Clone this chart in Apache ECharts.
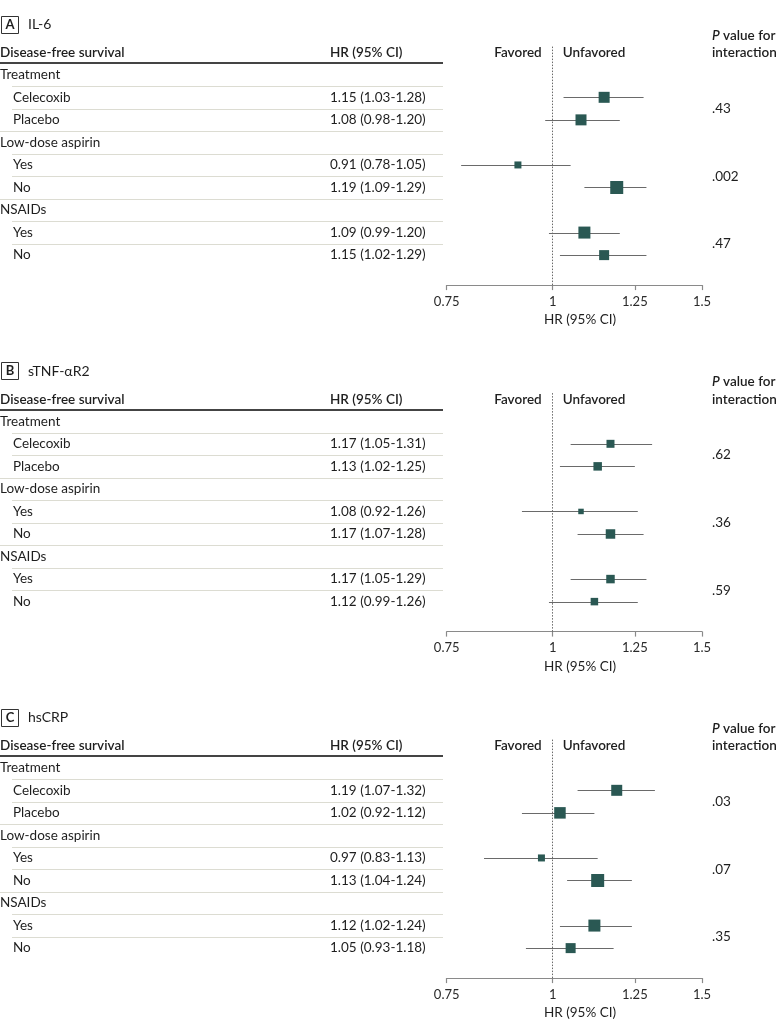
<!DOCTYPE html>
<html><head><meta charset="utf-8">
<script src="https://cdn.jsdelivr.net/npm/echarts@6/dist/echarts.min.js"></script>
<style>html,body{margin:0;padding:0;background:#fff}#c{width:783px;height:1033px}</style>
</head><body><div id="c"></div>
<script>
// ---------- data ----------
const rowLabels = ['Treatment','Celecoxib','Placebo','Low-dose aspirin','Yes','No','NSAIDs','Yes','No'];
const rowIsGroup = [true,false,false,true,false,false,true,false,false];
const panelLetters = ['A','B','C'];
const panelTitles = ['IL-6','sTNF-\u03b1R2','hsCRP'];
const tickValues = [0.75, 1, 1.25, 1.5];
const tickLabels = ['0.75','1','1.25','1.5'];

const il6Hr   = [null,1.15,1.08,null,0.91,1.19,null,1.09,1.15];
const il6Lo   = [null,1.03,0.98,null,0.78,1.09,null,0.99,1.02];
const il6Hi   = [null,1.28,1.20,null,1.05,1.29,null,1.20,1.29];
const il6Wt   = [null,11,11,null,7,13,null,12,10];
const il6P    = ['.43','.002','.47'];

const tnfHr   = [null,1.17,1.13,null,1.08,1.17,null,1.17,1.12];
const tnfLo   = [null,1.05,1.02,null,0.92,1.07,null,1.05,0.99];
const tnfHi   = [null,1.31,1.25,null,1.26,1.28,null,1.29,1.26];
const tnfWt   = [null,8,8.5,null,5.5,9.5,null,8.5,7.5];
const tnfP    = ['.62','.36','.59'];

const crpHr   = [null,1.19,1.02,null,0.97,1.13,null,1.12,1.05];
const crpLo   = [null,1.07,0.92,null,0.83,1.04,null,1.02,0.93];
const crpHi   = [null,1.32,1.12,null,1.13,1.24,null,1.24,1.18];
const crpWt   = [null,11,11.5,null,7,13,null,12,10];
const crpP    = ['.03','.07','.35'];

const panels = [
  {hr: il6Hr, lo: il6Lo, hi: il6Hi, wt: il6Wt, p: il6P},
  {hr: tnfHr, lo: tnfLo, hi: tnfHi, wt: tnfWt, p: tnfP},
  {hr: crpHr, lo: crpLo, hi: crpHi, wt: crpWt, p: crpP}
];

// ---------- layout ----------
const FONT = 'Lato, "Open Sans", sans-serif';
const TXT = '#1e1e1e';
const MARK = '#2a5853';
const PANEL_STEP = 346.5;
const GRID_TOP = 46.6, GRID_H = 238.5, GRID_L = 446.7, GRID_W = 255.3;
const Y_MIN = -1.25, Y_MAX = 9.33;

const chart = echarts.init(document.getElementById('c'), null, {renderer: 'canvas'});

const grids = [], xAxes = [], yAxes = [], series = [];
panels.forEach((pd, i) => {
  grids.push({left: GRID_L, width: GRID_W, top: GRID_TOP + i * PANEL_STEP, height: GRID_H, containLabel: false});
  xAxes.push({
    type: 'log', gridIndex: i, min: 0.75, max: 1.5, logBase: Math.E, position: 'bottom',
    axisLine: {show: true, onZero: false, lineStyle: {color: '#8a8a8a', width: 1.2}},
    axisTick: {show: true, customValues: tickValues, length: 5, inside: false, lineStyle: {color: '#8a8a8a', width: 1.2}},
    axisLabel: {show: true, customValues: tickValues, margin: 10, color: '#2a2a2a', fontFamily: FONT, fontSize: 13,
      formatter: v => { const k = tickValues.findIndex(t => Math.abs(t - v) < 1e-6); return k >= 0 ? tickLabels[k] : ''; }},
    splitLine: {show: false}, minorTick: {show: false}, minorSplitLine: {show: false}
  });
  yAxes.push({type: 'value', gridIndex: i, inverse: true, min: Y_MIN, max: Y_MAX, show: false});

  const whisk = [], pts = [];
  pd.hr.forEach((h, r) => {
    if (h == null) return;
    whisk.push([h, r, pd.lo[r], pd.hi[r]]);
    pts.push([h, r, pd.wt[r]]);
  });
  series.push({
    type: 'custom', xAxisIndex: i, yAxisIndex: i, data: whisk, encode: {x: 0, y: 1}, z: 2, silent: true,
    renderItem: (params, api) => {
      const r = api.value(1);
      const a = api.coord([api.value(2), r]);
      const b = api.coord([api.value(3), r]);
      const y = Math.round(a[1]) + 0.5;
      return {type: 'line', shape: {x1: a[0], y1: y, x2: b[0], y2: y}, style: {stroke: '#6a6a6a', lineWidth: 1}};
    }
  });
  series.push({
    type: 'scatter', xAxisIndex: i, yAxisIndex: i, data: pts, symbol: 'rect', z: 3, silent: true,
    symbolSize: v => v[2], itemStyle: {color: MARK, opacity: 1},
    markLine: {silent: true, symbol: 'none', label: {show: false},
      lineStyle: {type: [1.5, 1.5], color: '#6a6a6a', width: 1},
      data: [{xAxis: 1}]}
  });
});

chart.setOption({
  animation: false,
  textStyle: {fontFamily: FONT},
  grid: grids, xAxis: xAxes, yAxis: yAxes, series: series
});

// ---------- table text via the same y scales ----------
const g = [];
function T(x, y, text, opts) {
  opts = opts || {};
  g.push({type: 'text', x: x, y: y, silent: true, style: Object.assign({
    text: text, fill: TXT, font: (opts.weight || 'normal') + ' ' + (opts.size || 13.5) + 'px ' + FONT,
    textAlign: opts.align || 'left', textVerticalAlign: 'middle'}, opts.style || {})});
}
function L(x1, y1, x2, color, w) {
  const yy = Math.round(y1) + (w % 2 ? 0.5 : 0);
  g.push({type: 'line', silent: true, shape: {x1: x1, y1: yy, x2: x2, y2: yy}, style: {stroke: color, lineWidth: w}});
}
const TABLE_R = 443;
const HEAD_W = '600';
const x1px = chart.convertToPixel({xAxisIndex: 0}, 1);
panels.forEach((pd, i) => {
  const ry = r => chart.convertToPixel({yAxisIndex: i}, r);
  // title
  const ty = ry(-2.23);
  g.push({type: 'rect', silent: true, shape: {x: 1.5, y: Math.round(ty) - 8.5, width: 17, height: 17},
    style: {fill: '#fff', stroke: '#333', lineWidth: 1}});
  T(10, ty, panelLetters[i], {weight: 'bold', size: 13, align: 'center'});
  T(28, ty, panelTitles[i], {size: 14});
  // headers
  const hy = ry(-0.97);
  T(0, hy, 'Disease-free survival', {weight: HEAD_W});
  T(330, hy, 'HR (95% CI)', {weight: HEAD_W});
  T(x1px - 11, hy, 'Favored', {weight: HEAD_W, align: 'right'});
  T(x1px + 10, hy, 'Unfavored', {weight: HEAD_W});
  g.push({type: 'text', x: 712, y: ry(-1.75), silent: true, style: {
    text: '{i|P} value for', fill: TXT, font: HEAD_W + ' 13.5px ' + FONT, textVerticalAlign: 'middle',
    rich: {i: {fontStyle: 'italic', fontWeight: HEAD_W, fontSize: 13.5, fontFamily: FONT, fill: TXT}}}});
  T(712, hy, 'interaction', {weight: HEAD_W});
  L(0, ry(-0.52), TABLE_R, '#444', 2);
  // rows
  rowLabels.forEach((lab, r) => {
    const y = ry(r);
    T(rowIsGroup[r] ? 0 : 13, y, lab);
    if (pd.hr[r] != null) {
      T(330, y, pd.hr[r].toFixed(2) + ' (' + pd.lo[r].toFixed(2) + '-' + pd.hi[r].toFixed(2) + ')');
    }
    if (r < rowLabels.length - 1) {
      L(rowIsGroup[r + 1] ? 0 : 12, ry(r + 0.5), TABLE_R, '#dcdcd2', 1);
    }
  });
  // p values (between the two subgroup rows)
  [1, 4, 7].forEach((r, k) => T(712, ry(r + 0.5), pd.p[k]));
  // axis title
  T(580, ry(10.88), 'HR (95% CI)', {align: 'center', size: 13.5});
});
chart.setOption({graphic: g});
</script>
</body></html>
